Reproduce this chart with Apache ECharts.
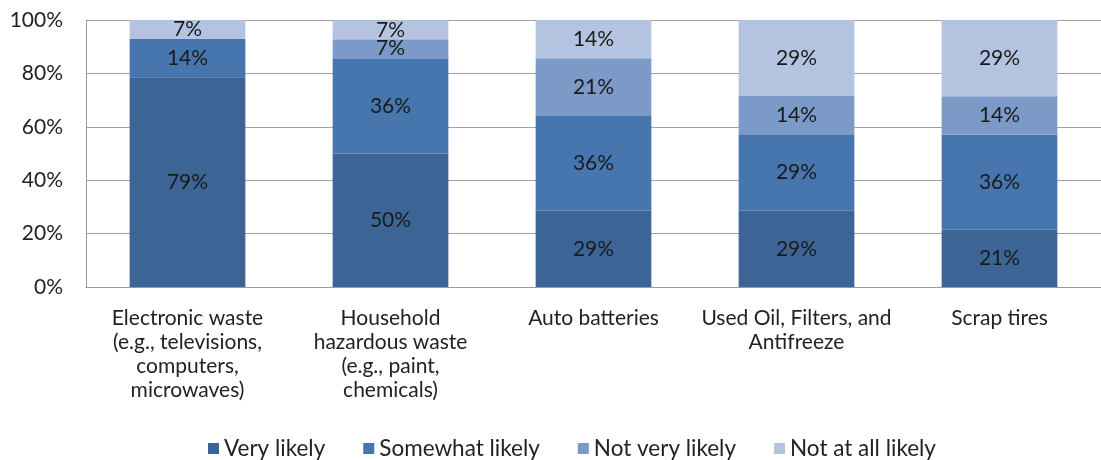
<!DOCTYPE html>
<html><head><meta charset="utf-8">
<script src="https://cdn.jsdelivr.net/npm/echarts@6/dist/echarts.min.js"></script>
<style>html,body{margin:0;padding:0;background:#fff}#c{width:1101px;height:460px}</style>
</head><body><div id="c"></div>
<script>
const categories = ["Electronic waste\n(e.g., televisions,\ncomputers,\nmicrowaves)", "Household\nhazardous waste\n(e.g., paint,\nchemicals)", "Auto batteries", "Used Oil, Filters, and\nAntifreeze", "Scrap tires"];
const seriesNames = ["Very likely", "Somewhat likely", "Not very likely", "Not at all likely"];
const veryLikely = [78.6, 50.0, 28.6, 28.6, 21.4];
const somewhatLikely = [14.3, 35.7, 35.7, 28.6, 35.7];
const notVeryLikely = [0, 7.1, 21.4, 14.3, 14.3];
const notAtAllLikely = [7.1, 7.1, 14.3, 28.6, 28.6];
const yTicks = [0, 20, 40, 60, 80, 100];

const colors = ["#3C6494", "#4776AE", "#7B9AC8", "#B4C3DF"];
const font = "Lato, 'Open Sans', sans-serif";
const dataSets = [veryLikely, somewhatLikely, notVeryLikely, notAtAllLikely];
const chart = echarts.init(document.getElementById('c'));
chart.setOption({
  animation: false,
  grid: {left: 86, width: 1022, top: 20, height: 267, containLabel: false},
  legend: {
    top: 432, left: 203, itemWidth: 11, itemHeight: 11, itemGap: 38,
    icon: 'rect',
    textStyle: {fontFamily: font, fontSize: 22.5, color: '#222'},
    data: seriesNames
  },
  xAxis: {
    type: 'category', data: categories,
    axisLine: {show: true, lineStyle: {color: '#9a9a9a'}},
    axisTick: {show: false},
    axisLabel: {fontFamily: font, fontSize: 21, color: '#222', lineHeight: 24, margin: 19, interval: 0}
  },
  yAxis: {
    type: 'value', min: 0, max: 100, interval: 20,
    axisLine: {show: true, lineStyle: {color: '#9a9a9a'}},
    axisTick: {show: false},
    splitLine: {lineStyle: {color: '#a0a0a0'}},
    axisLabel: {fontFamily: font, fontSize: 21, color: '#222', margin: 23,
      formatter: v => yTicks.includes(v) ? v + '%' : ''}
  },
  series: seriesNames.map((n, i) => ({
    name: n, type: 'bar', stack: 'total', barCategoryGap: '43%',
    itemStyle: {color: colors[i]},
    data: dataSets[i],
    label: {
      show: true, position: 'inside', fontFamily: font, fontSize: 21, color: '#1a1a1a',
      formatter: p => p.value > 0 ? Math.round(p.value) + '%' : ''
    }
  }))
});
</script></body></html>
